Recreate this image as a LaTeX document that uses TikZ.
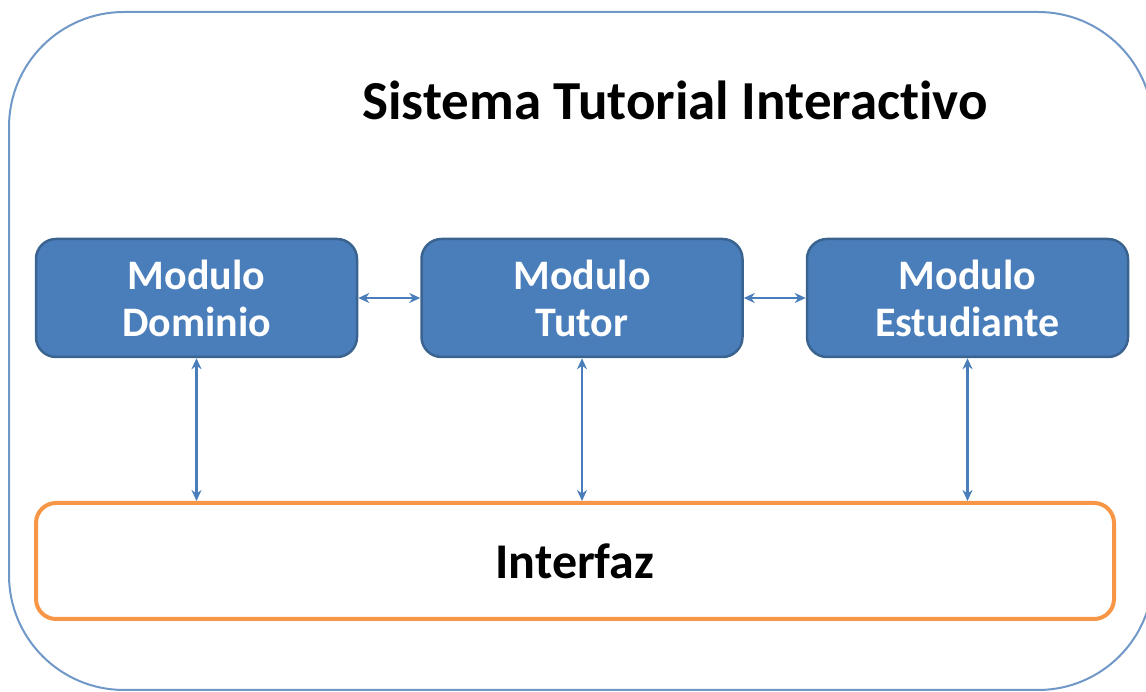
\documentclass[tikz,border=0pt]{standalone}
\usepackage{fontspec}
\setmainfont{Carlito}[Ligatures=NoCommon]
\usepackage{tikz}
\usetikzlibrary{arrows.meta}
\definecolor{modfill}{HTML}{4A7EBB}
\definecolor{moddraw}{HTML}{3A6390}
\definecolor{frame}{HTML}{6F97C8}
\definecolor{ifaz}{HTML}{F79646}

\begin{document}
\begin{tikzpicture}[x=1pt,y=1pt,
    modulo/.style={draw=moddraw,line width=2.5pt,fill=modfill,rounded corners=20pt,
      minimum width=321pt,minimum height=118pt,text=white,align=center,
      font=\fontsize{42}{47}\selectfont\bfseries},
    interfaz/.style={draw=ifaz,line width=4pt,rounded corners=20pt,
      minimum width=1078pt,minimum height=116pt,font=\fontsize{50}{56}\selectfont\bfseries},
    enlace/.style={draw=modfill,line width=2.5pt,{Stealth[length=11pt,width=10pt]}-{Stealth[length=11pt,width=10pt]}}]
  \useasboundingbox (0,0) rectangle (1146,692);
  \clip (0,0) rectangle (1146,692);
  % marco exterior
  \draw[frame,line width=2pt,rounded corners=115pt] (9,2) rectangle (1153,680);
  \node (titulo) at (675,592) {\fontsize{55}{62}\selectfont\bfseries Sistema Tutorial Interactivo};
  % modulos
  \node[modulo] (dominio) at (196.5,394) {Modulo\\Dominio};
  \node[modulo] (tutor) at (582,394) {Modulo\\Tutor};
  \node[modulo] (estud) at (967.5,394) {Modulo\\Estudiante};
  \node[interfaz] (interfaz) at (575,131) {Interfaz};
  % conexiones
  \draw[enlace] (dominio.east) -- (tutor.west);
  \draw[enlace] (tutor.east) -- (estud.west);
  \foreach \m in {dominio,tutor,estud}
    \draw[enlace] (\m.south) -- (\m.south |- interfaz.north);
\end{tikzpicture}
\end{document}
